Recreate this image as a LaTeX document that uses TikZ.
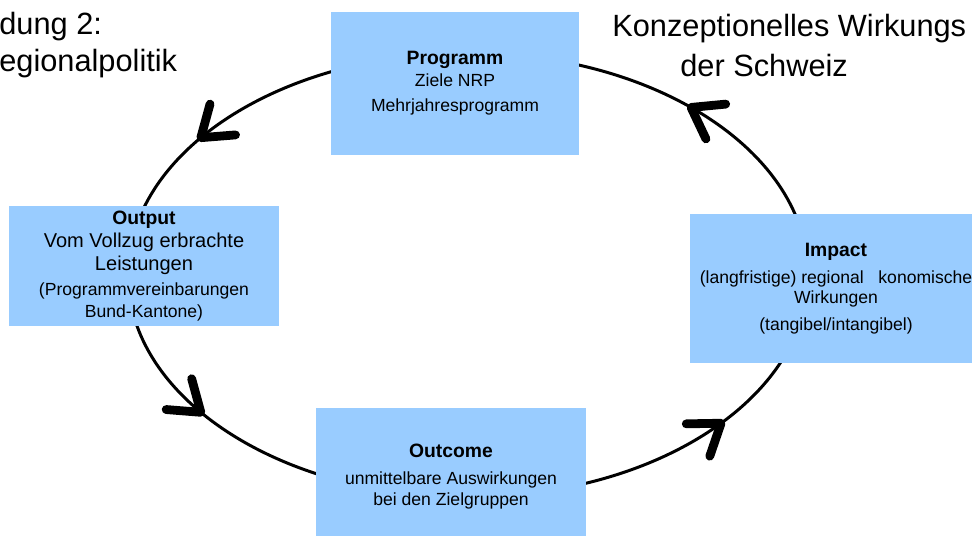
\documentclass[tikz,border=0pt]{standalone}
\usepackage{fontspec}
\setmainfont{Liberation Sans}
\usepackage{xcolor}
\definecolor{nrpblue}{RGB}{153,204,255}
\usepackage{tikz}
\usetikzlibrary{decorations.markings}

\tikzset{
  barbline/.style={line width=5pt, line cap=round, line join=round},
  nrpbox/.style={fill=nrpblue, align=center, inner sep=0pt, font=\fontsize{10}{11.5}\selectfont},
  flow/.style={line width=1.7pt, postaction={decorate},
    decoration={markings, mark=at position #1 with
      {\draw[barbline] (-0.57,0.40) -- (0,0) -- (-0.57,-0.40);}}},
  titletext/.style={anchor=base west, inner sep=0pt, font=\fontsize{17.5}{21}\selectfont}
}
\newcommand{\boxhead}[1]{{\fontsize{11}{11.5}\selectfont\bfseries #1}}
\newcommand{\bigline}[1]{{\fontsize{11.4}{11.5}\selectfont #1}}

\begin{document}
\begin{tikzpicture}
  \clip (0,0) rectangle (19.44,10.72);
  % Title, cut at the page edges
  \node[titletext] (fignr) at (-0.02,10.02) {dung 2:};
  \node[titletext] (figpol) at (-0.02,9.28) {egionalpolitik};
  \node[titletext] (figtop) at (12.24,9.98) {Konzeptionelles Wirkungs};
  \node[titletext] (figch) at (13.6,9.18) {der Schweiz};

  % Cycle points, hidden behind the boxes
  \coordinate (ctop) at (9.36,9.66);
  \coordinate (cleft) at (2.56,5.22);
  \coordinate (cbot) at (9.36,0.78);
  \coordinate (cright) at (16.16,5.22);

  % Cycle
  \draw[flow=0.64] (ctop) to[out=180, in=90, out distance=3.755cm, in distance=2.452cm] (cleft);
  \draw[flow=0.36] (cleft) to[out=270, in=180, out distance=2.452cm, in distance=3.755cm] (cbot);
  \draw[flow=0.60] (cbot) to[out=0, in=270, out distance=3.755cm, in distance=2.452cm] (cright);
  \draw[flow=0.48] (cright) to[out=90, in=0, out distance=2.452cm, in distance=3.755cm] (ctop);

  % Top: Programm
  \node[nrpbox, minimum width=4.96cm, minimum height=2.86cm] (prog) at (9.10,9.05)
    {\boxhead{Programm}\\[1pt] Ziele NRP\\[2.7pt] Mehrjahresprogramm};
  % Left: Output
  \node[nrpbox, minimum width=5.4cm, minimum height=2.4cm] (outp) at (2.88,5.40)
    {\boxhead{Output}\\[1.6pt] \bigline{Vom Vollzug erbrachte}\\[1.6pt] \bigline{Leistungen}\\[2.7pt]
     (Programmvereinbarungen\\[1pt] Bund-Kantone)};
  % Right: Impact
  \node[nrpbox, minimum width=5.84cm, minimum height=2.98cm] (impact) at (16.72,4.95)
    {\boxhead{Impact}\\[3.9pt] (langfristige) regional \phantom{o}konomische\\ Wirkungen\\[3.9pt]
     (tangibel/intangibel)};
  % Bottom: Outcome
  \node[nrpbox, minimum width=5.4cm, minimum height=2.74cm] (outc) at (9.02,1.19)
    {\boxhead{Outcome}\\[3.9pt] unmittelbare Auswirkungen\\ bei den Zielgruppen};
\end{tikzpicture}
\end{document}
